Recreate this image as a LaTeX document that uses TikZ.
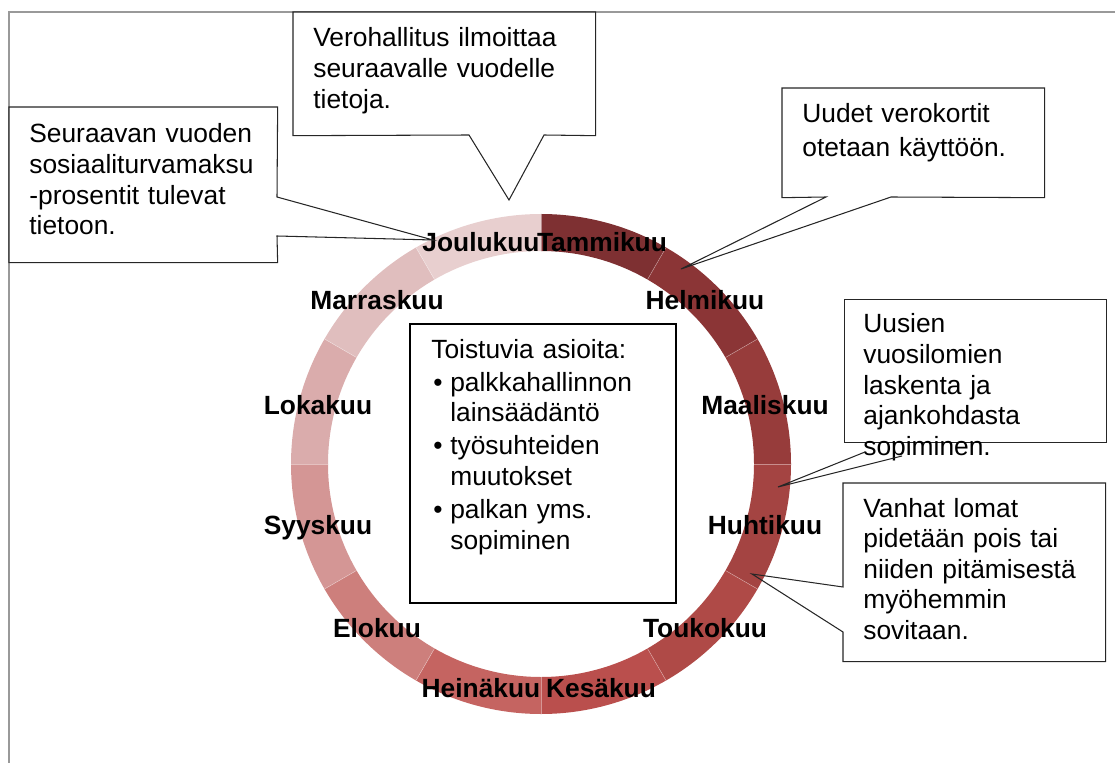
\documentclass[tikz,border=0pt]{standalone}
\usepackage{fontspec}
\setmainfont{Liberation Sans}
\usepackage{tikz}
\definecolor{kuu1}{HTML}{7E3032}
\definecolor{kuu2}{HTML}{8B3536}
\definecolor{kuu3}{HTML}{973C3B}
\definecolor{kuu4}{HTML}{A44442}
\definecolor{kuu5}{HTML}{AF4A47}
\definecolor{kuu6}{HTML}{BA4F4D}
\definecolor{kuu7}{HTML}{C56461}
\definecolor{kuu8}{HTML}{CD7F7C}
\definecolor{kuu9}{HTML}{D49695}
\definecolor{kuu10}{HTML}{DAACAC}
\definecolor{kuu11}{HTML}{E0BEBE}
\definecolor{kuu12}{HTML}{E8CFCF}
\tikzset{
  kehys/.style={line width=0.04cm, black!40},
  laatikko/.style={fill=white, inner sep=0pt, anchor=north west},
  reuna/.style={line width=0.6pt, black!85},
  teksti/.style={anchor=base west, inner sep=0pt, text width=6cm, align=left, font=\fontsize{15}{17.4}\selectfont},
  kuu/.style={anchor=base, inner sep=0pt, font=\fontsize{15}{17.4}\selectfont\bfseries},
  raja/.style={white, line width=0.3pt, opacity=0.4},
}

\begin{document}
\begin{tikzpicture}[x=0.02cm,y=-0.02cm]
  \useasboundingbox (0,0) rectangle (1115,763);
  % frame
  \coordinate (kulma) at (9,12);
  \draw[kehys] (9,763) -- (kulma) -- (1115,12);

  % year ring
  \begin{scope}[shift={(541,464)}]
    \foreach \i in {1,...,12}{
      \pgfmathsetmacro\a{-120+30*\i}
      \pgfmathsetmacro\b{-90+30*\i}
      \fill[kuu\i] (\a:250) arc[start angle=\a, end angle=\b, radius=250] -- (\b:213) arc[start angle=\b, end angle=\a, radius=213] -- cycle;
      \draw[raja] (\a:213) -- (\a:250);
    }
  \end{scope}
  \foreach \m/\x/\y [count=\n] in {Tammikuu/602/252, Helmikuu/705/310, Maaliskuu/765/414, Huhtikuu/765/534, Toukokuu/705/637, Kesäkuu/601/697, Heinäkuu/481/697, Elokuu/377/637, Syyskuu/318/534, Lokakuu/318/414, Marraskuu/377/310, Joulukuu/481/252}
    \node[kuu] (kk\n) at (\x,\y) {\m};

  % centre box
  \node[draw, line width=0.9pt, inner sep=0pt, anchor=north west, minimum width=5.32cm, minimum height=5.58cm] (keski) at (409,323) {};
  \node[teksti] (keskit) at (431,358) {Toistuvia asioita:\\[1.5pt]
    \makebox[0.38cm][l]{\hspace{0.04cm}•}palkkahallinnon\\ \hspace*{0.38cm}lainsäädäntö\\[1.5pt]
    \makebox[0.38cm][l]{\hspace{0.04cm}•}työsuhteiden\\ \hspace*{0.38cm}muutokset\\[1.5pt]
    \makebox[0.38cm][l]{\hspace{0.04cm}•}palkan yms.\\ \hspace*{0.38cm}sopiminen};

  % Verohallitus
  \node[laatikko, minimum width=6.04cm, minimum height=2.46cm] (vero) at (293,12) {};
  \coordinate (vero1) at (469,135);
  \coordinate (vero2) at (544,135);
  \coordinate (verokarki) at (509,200);
  \draw[reuna] (vero1) -- (vero.south west) -- (vero.north west) -- (vero.north east) -- (vero.south east) -- (vero2) -- (verokarki) -- cycle;
  \node[teksti] (verot) at (313,47) {Verohallitus ilmoittaa\\seuraavalle vuodelle\\tietoja.};

  % sosiaaliturvamaksu
  \node[laatikko, minimum width=5.36cm, minimum height=3.1cm] (seur) at (9,107) {};
  \coordinate (seur1) at (277,197);
  \coordinate (seur2) at (277,236);
  \coordinate (seurkarki) at (433,240);
  \draw[reuna] (seur1) -- (seur.north east) -- (seur.north west) -- (seur.south west) -- (seur.south east) -- (seur2) -- (seurkarki) -- cycle;
  \node[teksti] (seurt) at (29,143) {Seuraavan vuoden\\sosiaaliturvamaksu\\-prosentit tulevat\\tietoon.};

  % verokortit
  \node[laatikko, minimum width=5.24cm, minimum height=2.18cm] (uudet) at (782,88) {};
  \coordinate (uud1) at (826,197);
  \coordinate (uud2) at (891,197);
  \coordinate (uudkarki) at (681,269);
  \draw[reuna] (uud1) -- (uudet.south west) -- (uudet.north west) -- (uudet.north east) -- (uudet.south east) -- (uud2) -- (uudkarki) -- cycle;
  \node[teksti] (uudett) at (802,123) {Uudet verokortit\\[1.9pt]otetaan käyttöön.};

  % vuosilomat
  \node[laatikko, draw=black!85, line width=0.6pt, minimum width=5.24cm, minimum height=2.86cm] (uusi) at (844,299) {};
  \node[teksti] (uusit) at (863,333) {Uusien\\vuosilomien\\laskenta ja\\ajankohdasta\\sopiminen.};
  \coordinate (uuskarki) at (778,487);
  \coordinate (uus1) at (865,452);
  \coordinate (uus2) at (902,456);
  \draw[reuna] (uus1) -- (uuskarki) -- (uus2);

  % vanhat lomat
  \node[laatikko, minimum width=5.24cm, minimum height=3.56cm] (vanhat) at (843,483) {};
  \coordinate (van1) at (843,587);
  \coordinate (van2) at (843,632);
  \coordinate (vankarki) at (752,574);
  \draw[reuna] (van1) -- (vanhat.north west) -- (vanhat.north east) -- (vanhat.south east) -- (vanhat.south west) -- (van2) -- (vankarki) -- cycle;
  \node[teksti] (vanhatt) at (863,517) {Vanhat lomat\\pidetään pois tai\\niiden pitämisestä\\myöhemmin\\sovitaan.};
\end{tikzpicture}
\end{document}
